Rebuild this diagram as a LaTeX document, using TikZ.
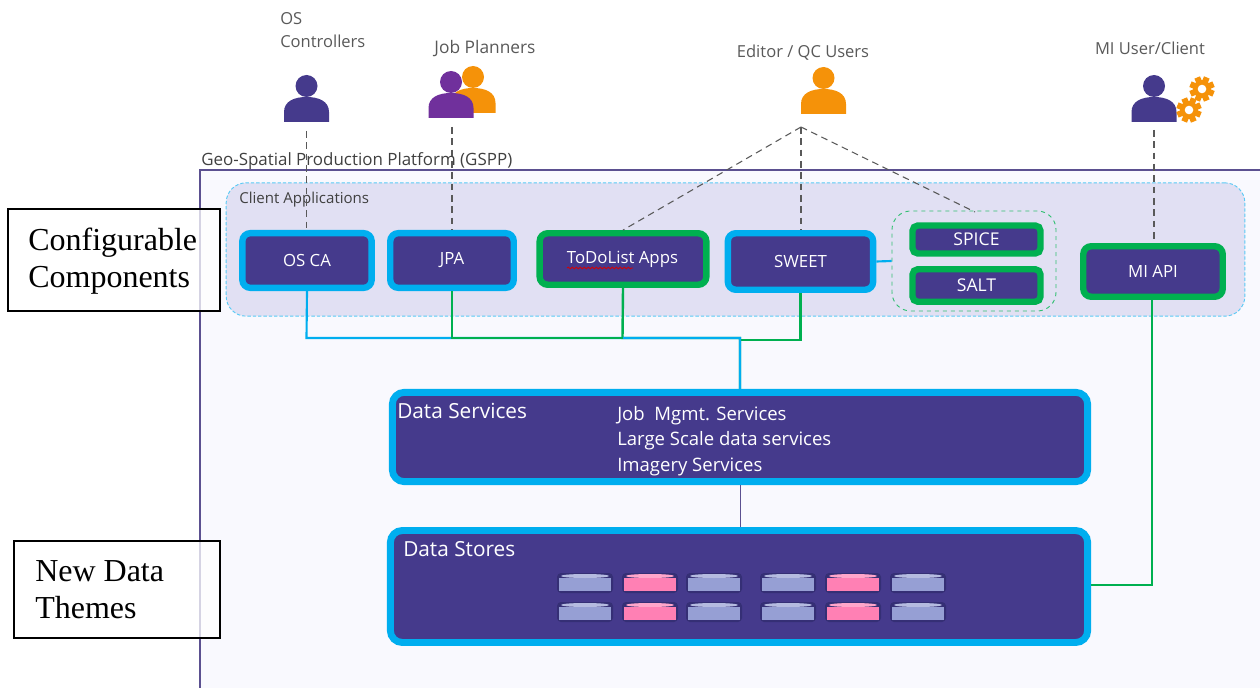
\documentclass[tikz,border=0pt]{standalone}
\usepackage{fontspec}
\setmainfont{Liberation Serif}
\newfontfamily\uifont{Open Sans}
\usetikzlibrary{positioning, decorations.pathmorphing}
\definecolor{deeppurple}{HTML}{453A8C}
\definecolor{framepurple}{HTML}{5B5090}
\definecolor{violetuser}{HTML}{70309C}
\definecolor{skyline}{HTML}{00AEEF}
\definecolor{greenline}{HTML}{00B050}
\definecolor{orangeuser}{HTML}{F59209}
\definecolor{panelfill}{HTML}{E1E0F3}
\definecolor{framefill}{HTML}{F9F9FE}
\definecolor{labelgrey}{HTML}{595959}
\definecolor{diskblue}{HTML}{969FD4}
\definecolor{diskpink}{HTML}{FF80B4}
\definecolor{diskedge}{HTML}{352F75}
\tikzset{
  appbox/.style={draw=skyline, fill=deeppurple, line width=4.8pt, rounded corners=6pt, text=white, font=\uifont\fontsize{12.6}{15}\selectfont, align=center, inner sep=0pt},
  greenbox/.style={appbox, draw=greenline},
  toolbox/.style={greenbox, rounded corners=4pt, font=\uifont\fontsize{13.2}{15}\selectfont},
  bigbox/.style={appbox, line width=5.2pt, rounded corners=9pt},
  usertext/.style={text=labelgrey, font=\uifont\fontsize{12.4}{17.25}\selectfont, inner sep=0pt},
  sidebox/.style={draw=black, line width=1.1pt, fill=white, fill opacity=.75, inner sep=0pt},
  sidetext/.style={font=\fontsize{24}{27.75}\selectfont, align=left, inner sep=0pt, anchor=west},
  titletext/.style={text=white, font=\uifont\fontsize{15.6}{19}\selectfont, inner sep=0pt, anchor=west},
  blueline/.style={skyline, line width=1.6pt},
  grnline/.style={greenline, line width=1.8pt},
  userlink/.style={black!65, line width=0.8pt, dash pattern=on 5pt off 3.5pt},
  personicon/.pic={
    \fill[pic actions] (0,0) circle (11);
    \fill[pic actions] (-22.5,36) -- (-22.5,26) .. controls (-22.5,15) and (-12,11) .. (0,11) .. controls (12,11) and (22.5,15) .. (22.5,26) -- (22.5,36) -- cycle;
  },
  gearicon/.pic={
    \fill[orangeuser] (0,0) circle (9);
    \foreach \a in {0,45,...,315}
      \fill[orangeuser, rotate=\a+22.5] (-3,0) rectangle (3,12.5);
    \fill[white] (0,0) circle (4.3);
  },
  diskicon/.pic={
    \fill[diskedge, rounded corners=3pt] (-28,-10) rectangle (28,10);
    \fill[pic actions] (-26,-5) rectangle (26,8);
    \fill[pic actions] (0,-7) ellipse (24 and 2);
    \fill[white, opacity=.3] (0,-7) ellipse (24 and 2);
  }
}
\begin{document}
\begin{tikzpicture}[x=0.75pt,y=-0.75pt]
  \useasboundingbox (0,0) rectangle (1260,688);

  % platform frame and client panel
  \fill[framefill] (200,170) rectangle (1260,688);
  \draw[framepurple, line width=1.8pt] (1260,170) -- (200,170) -- (200,688);
  \node (gspplabel) [anchor=west, inner sep=0pt, text=black!75, font=\uifont\fontsize{12.7}{14}\selectfont] at (201,161.5) {Geo-Spatial Production Platform (GSPP)};
  \node (clientpanel) [draw=skyline!65, fill=panelfill, dash pattern=on 2.5pt off 1.5pt, line width=0.7pt, rounded corners=15pt, minimum width=764pt, minimum height=100pt, inner sep=0pt] at (735.5,249.5) {};
  \node (clientlabel) [anchor=west, inner sep=0pt, text=black!75, font=\uifont\fontsize{11.3}{12}\selectfont] at (239,200) {Client Applications};

  % client apps
  \node [appbox, minimum width=97pt, minimum height=41pt] (osca) at (307,260.5) {OS CA};
  \node [appbox, minimum width=92.6pt, minimum height=41pt] (jpa) at (452,260.5) {\raisebox{-1pt}{JPA}};
  \node [greenbox, minimum width=125pt, minimum height=38.6pt] (todolist) at (623,259) {};
  \node [appbox, minimum width=109pt, minimum height=42.4pt] (sweet) at (800.5,261.5) {SWEET};
  \node [draw=greenline!80, dashed, line width=0.7pt, rounded corners=14pt, minimum width=123pt, minimum height=75pt] (toolgroup) at (974,261) {};
  \node [toolbox, minimum width=96pt, minimum height=21pt] (spice) at (976.5,239.5) {SPICE};
  \node [toolbox, minimum width=96pt, minimum height=24.4pt] (salt) at (976.5,285.5) {SALT};
  \node [greenbox, minimum width=104.6pt, minimum height=37.9pt] (miapi) at (1153,271.5) {MI API};
  \node [text=white, font=\uifont\fontsize{12.6}{15}\selectfont, inner sep=0pt] (todolabel) at (622.5,259.5) {ToDoList Apps};

  % data layers
  \node [bigbox, minimum width=521.5pt, minimum height=67pt] (dataservices) at (740,437) {};
  \node [titletext] (serviceslabel) at (397,411) {Data Services};
  \node [titletext, font=\uifont\fontsize{13.9}{19}\selectfont, align=left] (servicelist) at (617,441) {Job\ \ Mgmt. Services\\Large Scale data services\\Imagery Services};
  \node [bigbox, minimum width=523pt, minimum height=84pt] (datastores) at (739,586.5) {};
  \node [titletext] (storeslabel) at (403,549) {Data Stores};

  % disks
  \foreach \xa/\colr in {585/diskblue,650/diskpink,714/diskblue,788/diskblue,853/diskpink,918/diskblue}
    \foreach \ya in {583,612}
      \pic[fill=\colr] at (\xa,\ya) {diskicon};

  % users
  \pic[fill=deeppurple] at (306.5,86) {personicon};
  \pic[fill=orangeuser] at (473,77) {personicon};
  \pic[fill=violetuser] at (451,82) {personicon};
  \pic[fill=orangeuser] at (823.5,78) {personicon};
  \pic[fill=deeppurple] at (1154,86) {personicon};
  \pic at (1202,89) {gearicon};
  \pic at (1189,110) {gearicon};

  \node [usertext, anchor=west, align=left] (oslabel) at (280,30) {OS\\Controllers};
  \node [usertext, font=\uifont\fontsize{13}{15}\selectfont] (jplabel) at (485,49) {Job Planners};
  \node [usertext] (qclabel) at (803,53) {Editor / QC Users};
  \node [usertext] (milabel) at (1150,48) {MI User/Client};

  \coordinate (osuser) at (306.5,131);
  \coordinate (jpuser) at (452,127);
  \coordinate (qcuser) at (801,127);
  \coordinate (miuser) at (1154,130);
  \coordinate (spicetop) at (975,212);

  % user links
  \draw [userlink] (osuser) -- (osca.north -| osuser);
  \draw [userlink] (jpuser) -- (jpa.north -| jpuser);
  \draw [userlink] (qcuser) -- (todolist.north);
  \draw [userlink] (qcuser) -- (sweet.north -| qcuser);
  \draw [userlink] (qcuser) -- (spicetop);
  \draw [userlink] (miuser) -- (miapi.north -| miuser);

  % red proofing mark
  \coordinate (marka) at (567,268);
  \coordinate (markb) at (633,268);
  \draw [red!85!black, line width=0.6pt, decorate, decoration={snake, amplitude=0.6pt, segment length=3pt}] (marka) -- (markb);

  % bus
  \coordinate (busa) at (306.5,338);
  \coordinate (busb) at (740,338);
  \coordinate (busc) at (800.5,340);
  \coordinate (busd) at (622.5,338);
  \draw [grnline] (todolist.south) -- (busd) -- (busb) -- (dataservices.north -| busb);
  \draw [grnline] (sweet.south) -- (busc) -- (busc -| busb);
  \draw [blueline] (osca.south) -- (busa) -- (busb) -- (dataservices.north -| busb);
  \draw [grnline] (jpa.south) |- (busd);
  \draw [skyline, line width=1.6pt] (sweet.east) -- (toolgroup.west);
  \draw [framepurple, line width=0.6pt] (dataservices.south) -- (datastores.north -| dataservices);
  \coordinate (miturn) at (1152,585);
  \draw [grnline] (miapi.south -| miturn) -- (miturn) -- (datastores.east |- miturn);

  % side notes
  \node [sidebox, minimum width=159pt, minimum height=76.5pt] (configbox) at (114,260) {};
  \node [sidetext] (configtext) at (28,261) {Configurable\\Components};
  \node [sidebox, minimum width=154.5pt, minimum height=73pt] (themebox) at (117,589.5) {};
  \node [sidetext] (themetext) at (35,590) {New Data\\Themes};
\end{tikzpicture}
\end{document}
